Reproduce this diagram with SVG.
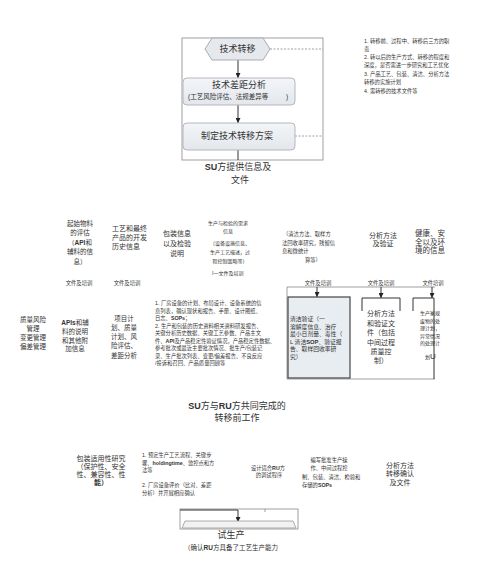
<svg xmlns="http://www.w3.org/2000/svg" width="500" height="566" viewBox="0 0 500 566">
<defs>
<marker id="ah" markerWidth="5" markerHeight="5" refX="5" refY="2.5" orient="auto" markerUnits="userSpaceOnUse"><path d="M0,0 L5,2.5 L0,5 z" fill="#222"/></marker>
<linearGradient id="g1" x1="0" y1="0" x2="0" y2="1"><stop offset="0" stop-color="#f3f5f8"/><stop offset="1" stop-color="#e3e7ec"/></linearGradient>
</defs>
<style>
text{font-family:'Liberation Sans','Noto Sans CJK SC',sans-serif;fill:#333}
.t9{font-size:9px}
.t75{font-size:7.5px}
.t7{font-size:7px}
.t65{font-size:6.5px}
.t58{font-size:5.8px}
.t53{font-size:5.3px}
.t5{font-size:5px}
.c{text-anchor:middle}
.b{font-weight:bold}
.box{fill:url(#g1);stroke:#b3b7bd;stroke-width:1}
.ln{stroke:#333;stroke-width:1;fill:none}
.thin{stroke:#888;stroke-width:0.8;fill:none}
.dash{stroke:#888;stroke-width:0.8;stroke-dasharray:2 1.5;fill:none}
</style>
<rect width="500" height="566" fill="#fff"/>

<g id="connectors">
<rect x="182" y="38" width="141" height="122" class="thin"/>
<line x1="238" y1="60" x2="238" y2="78" class="ln" marker-end="url(#ah)"/>
<line x1="238" y1="105" x2="238" y2="123" class="ln" marker-end="url(#ah)"/>
<line x1="238" y1="150" x2="238" y2="160" class="ln"/>
<line x1="270" y1="49" x2="323" y2="49" class="dash"/>
<line x1="295" y1="136" x2="323" y2="136" class="dash"/>
<path d="M287,379 V287 H435" class="thin"/>
<line x1="287" y1="379" x2="435" y2="379" class="thin"/>
<line x1="317" y1="287" x2="317" y2="297" class="ln" marker-end="url(#ah)"/>
<line x1="381" y1="287" x2="381" y2="298" class="ln" marker-end="url(#ah)"/>
<line x1="432" y1="287" x2="432" y2="298" class="ln" marker-end="url(#ah)"/>
<rect x="180" y="509" width="118" height="20" class="thin"/>
<line x1="265" y1="509" x2="265" y2="512" class="thin"/>
<path d="M180,510 H238 V522" class="ln" marker-end="url(#ah)"/>
</g>

<g id="n-tech-transfer">
<polygon points="205,49 212,38 263,38 270,49 263,60 212,60" fill="#e5e8ed" stroke="#a8acb3" stroke-width="1"/>
<text x="237.5" y="52" class="t9 c">技术转移</text>
</g>
<g id="n-gap-analysis">
<rect x="183" y="78" width="112" height="27" rx="4" class="box"/>
<text x="239" y="88" class="t9 c">技术差距分析</text>
<text x="188" y="99" class="t65">(工艺风险评估、法规差异等</text>
<text x="286" y="99" class="t65">)</text>
</g>
<g id="n-plan">
<rect x="183" y="123" width="112" height="27" rx="4" class="box"/>
<text x="237" y="139" class="t9 c">制定技术转移方案</text>
</g>
<g id="n-su-info">
<text x="238" y="170" class="t9 c"><tspan class="b">SU</tspan>方提供信息及</text>
<text x="240" y="183" class="t9 c">文件</text>
</g>
<g id="n-notes" class="t53">
<text x="364" y="43">1. 转移前、过程中、转移后三方的职</text>
<text x="364" y="51">责</text>
<text x="364" y="59">2. 转以后的生产方式、转移的程度和</text>
<text x="364" y="67">深度，是否需进一步研究和工艺优化</text>
<text x="364" y="75.5">3. 产品工艺、包装、清洁、分析方法</text>
<text x="364" y="84">转移的实施计划</text>
<text x="364" y="93">4. 需转移的技术文件等</text>
</g>

<g id="n-start-material" class="t65 c">
<text x="80" y="225.5">起始物料</text>
<text x="80" y="235">的评估</text>
<text x="80" y="244.5">（<tspan class="b">API</tspan>和</text>
<text x="80" y="254">辅料的信</text>
<text x="80" y="263.5">息）</text>
<text x="79" y="285" class="t53">文件及培训</text>
</g>
<g id="n-dev-history">
<text x="112" y="230.5" class="t7">工艺和最终</text>
<text x="112" y="239.5" class="t7">产品的开发</text>
<text x="112" y="248.5" class="t7">历史信息</text>
<text x="127" y="285" class="t53 c">文件及培训</text>
</g>
<g id="n-packaging" class="t7 c">
<text x="177" y="235.5">包装信息</text>
<text x="177" y="245.5">以及检验</text>
<text x="177" y="255.5">说明</text>
</g>
<g id="n-prod-req" class="t5 c">
<text x="228" y="225">生产与检验的需求</text>
<text x="228" y="232.5">信息</text>
<text x="230" y="245">（设备设施信息、</text>
<text x="230" y="254">生产工艺描述，过</text>
<text x="230" y="263">程控制策略等）</text>
<text x="212" y="275" style="text-anchor:start">I一文件及培训</text>
</g>
<g id="n-cleaning-info" class="t53">
<text x="283" y="236">（清洁方法、取样方</text>
<text x="282" y="245">法回收率研究，残留信</text>
<text x="282" y="253">息和微统计</text>
<text x="305" y="262">算等）</text>
<text x="318" y="285" class="c">文件及培训</text>
</g>
<g id="n-analytical" class="t7 c">
<text x="383" y="237.5">分析方法</text>
<text x="383" y="246">及验证</text>
<text x="381" y="285" class="t53">文件及培训</text>
</g>
<g id="n-hse" class="t75 c">
<text x="430" y="235.5">健康、安</text>
<text x="430" y="244.5">全以及环</text>
<text x="430" y="253">境的信息</text>
<text x="433" y="285" class="t53">文件培训</text>
</g>

<g id="n-qrm" class="t65 c">
<text x="33" y="322">质量风险</text>
<text x="33" y="330.5">管理</text>
<text x="33" y="340">变更管理</text>
<text x="33" y="349">偏差管理</text>
</g>
<g id="n-apis" class="t65 c">
<text x="75" y="325"><tspan class="b">APIs</tspan>和辅</text>
<text x="75" y="334">料的说明</text>
<text x="75" y="342.5">和其他附</text>
<text x="75" y="351">加信息</text>
</g>
<g id="n-project" class="t65 c">
<text x="124" y="320.5">项目计</text>
<text x="124" y="329.5">划、质量</text>
<text x="124" y="339">计划、风</text>
<text x="124" y="348">险评估、</text>
<text x="124" y="357.5">差距分析</text>
</g>
<g id="n-facility-list" class="t53">
<text x="155" y="305">1. 厂房设备的计划、布局设计、设备系统的信</text>
<text x="155" y="312.5">息列表，确认现状和报告、手册、设计图纸、</text>
<text x="155" y="320">日志、<tspan class="b">SOPs</tspan>；</text>
<text x="155" y="327.5">2. 生产和包装的历史资料相关资料研发报告、</text>
<text x="155" y="335">关键分析历史数据、关键工艺参数、产品主文</text>
<text x="155" y="342.5">件、<tspan class="b">API</tspan>及产品稳定性验证情况，产品稳定性数据、</text>
<text x="155" y="350">参考批次或最近主要批次情况、批生产/包装记</text>
<text x="155" y="357.5">录、生产批次列表、变更/偏差报告、不良反应</text>
<text x="155" y="365">/投诉和召回、产品质量回顾等</text>
</g>
<g id="n-cleaning-validation">
<rect x="288" y="297" width="62" height="81" fill="#e8edf2" stroke="#444" stroke-width="1.2"/>
<g class="t58">
<text x="290" y="321">清洁验证（一</text>
<text x="290" y="328.5">溶解度信息、治疗</text>
<text x="290" y="336">最小日剂量、毒性（</text>
<text x="290" y="343.5">L 清洁<tspan class="b">SOP</tspan>、验证报</text>
<text x="290" y="351">告、取样回收率研</text>
<text x="290" y="358.5">究）</text>
</g>
</g>
<g id="n-analytical-docs">
<path d="M362,311 V298 H400 V311" class="ln"/>
<g class="t7 c">
<text x="381" y="315.5">分析方法</text>
<text x="381" y="325.5">和验证文</text>
<text x="381" y="335">件（包括</text>
<text x="381" y="344.5">中间过程</text>
<text x="381" y="354">质量控</text>
<text x="381" y="363">制）</text>
</g>
</g>
<g id="n-waste-plan">
<path d="M413,311 V298 H434 V379" class="ln"/>
<g class="t5">
<text x="420" y="315">生产家规</text>
<text x="420" y="322.5">废物的处</text>
<text x="420" y="330">理计划，</text>
<text x="420" y="337.5">异常情况</text>
<text x="420" y="345">的处理计</text>
<text x="425" y="359">划<tspan font-size="8">U</tspan></text>
</g>
</g>

<g id="n-joint-work" class="t9 c">
<text x="237" y="409"><tspan class="b">SU</tspan>方与<tspan class="b">RU</tspan>方共同完成的</text>
<text x="237" y="421">转移前工作</text>
</g>

<g id="n-pack-study" class="t7 c">
<text x="101" y="460.5">包装适用性研究</text>
<text x="101" y="468.5">（保护性、安全</text>
<text x="101" y="476.5">性、兼容性、性</text>
<text x="101" y="485" class="b">能）</text>
</g>
<g id="n-process-flow" class="t53">
<text x="142" y="457">1. 预定生产工艺流程、关键步</text>
<text x="142" y="465">骤、<tspan class="b">holdingtime</tspan>、监控点和方</text>
<text x="142" y="472">法等</text>
<text x="142" y="487">2. 厂房设备评价（比对、差距</text>
<text x="142" y="494.5">分析）并开展相应确认</text>
</g>
<g id="n-design-cleaning" class="t53 c">
<text x="268" y="470">设计适合<tspan class="b">RU</tspan>方</text>
<text x="269" y="477">的调试程序</text>
</g>
<g id="n-sops" class="t53">
<text x="329" y="462" class="c">编写批准生产操</text>
<text x="329" y="470" class="c">作、中间过程控</text>
<text x="302" y="479">制、包装、清洁、检验和</text>
<text x="302" y="487">存储的<tspan class="b">SOPs</tspan></text>
</g>
<g id="n-method-transfer" class="t7 c">
<text x="400" y="467.5">分析方法</text>
<text x="400" y="476">转移确认</text>
<text x="400" y="485">及文件</text>
</g>

<g id="n-trial">
<path d="M182,528 L185,521 H293 L296,528 Z" fill="#f2f2f2" stroke="#999" stroke-width="0.8"/>
<text x="231" y="538" class="t9 c">试生产</text>
<text x="231" y="550" class="t65 c">（确认<tspan class="b">RU</tspan>方具备了工艺生产能力</text>
</g>
</svg>
